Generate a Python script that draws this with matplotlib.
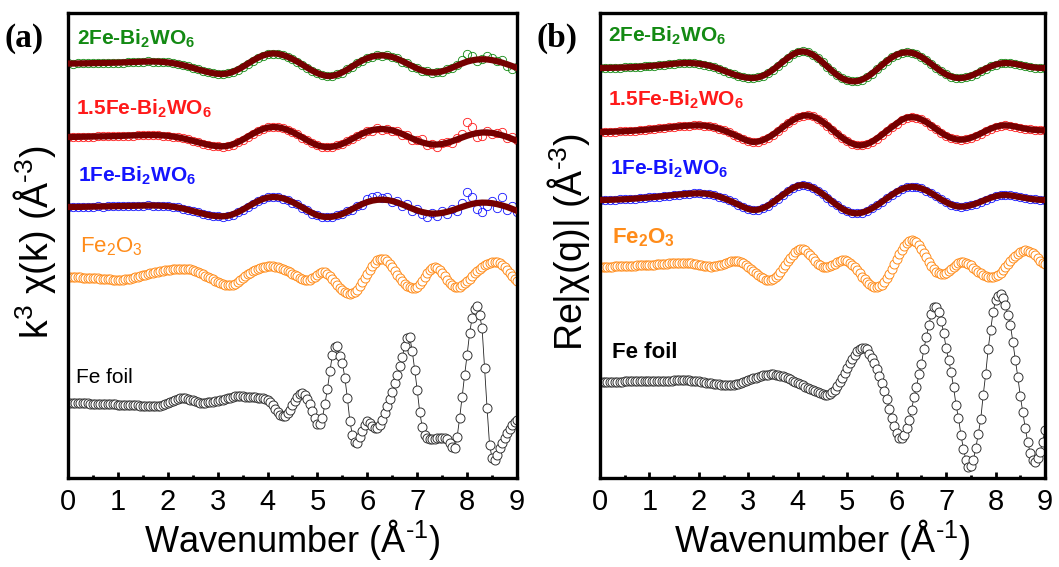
import matplotlib

matplotlib.use("Agg")

import matplotlib.pyplot as plt
import numpy as np

plt.rcParams["font.family"] = ["Liberation Sans", "DejaVu Sans"]
plt.rcParams["mathtext.fontset"] = "custom"
plt.rcParams["mathtext.rm"] = "Liberation Sans"
plt.rcParams["mathtext.it"] = "Liberation Sans:italic"
plt.rcParams["mathtext.bf"] = "Liberation Sans:bold"

# wavenumber grids (A^-1): fits / Bi2WO6 data every 0.1, references every 0.05
k_coarse = np.linspace(0, 9, 91)
k_fine = np.linspace(0, 9, 181)

# ---------------- panel (a): k^3 chi(k), values relative to each trace baseline
a_2fe_fit = [
    0.5, 0.5, 0.6, 0.7, 0.8, 0.9, 1.0, 1.1, 1.2, 1.3, 1.4,
    1.6, 1.8, 2.0, 2.2, 2.4, 2.5, 2.5, 2.4, 2.1, 1.6,
    0.9, 0.0, -1.1, -2.4, -3.8, -5.3, -6.7, -8.0, -9.1, -9.8,
    -10.0, -9.4, -7.9, -5.7, -2.9, 0.2, 3.3, 6.1, 8.4, 9.9,
    10.6, 10.3, 9.1, 7.3, 5.0, 2.3, -0.7, -3.8, -6.7, -9.2,
    -11.0, -12.0, -11.8, -10.5, -8.3, -5.5, -2.3, 0.8, 3.6, 5.9,
    7.5, 8.4, 8.6, 8.2, 7.0, 5.2, 2.9, 0.4, -2.1, -4.5,
    -6.5, -7.9, -8.5, -8.3, -7.3, -5.7, -3.7, -1.5, 0.6, 2.4,
    3.7, 4.5, 4.8, 4.6, 3.9, 2.8, 1.4, -0.2, -2.0, -3.8,
]
a_2fe_data = [
    0.6, 0.4, 0.7, 0.6, 0.9, 0.8, 1.1, 1.0, 1.3, 1.2, 1.5,
    1.5, 1.9, 1.9, 2.3, 2.3, 2.6, 2.4, 2.5, 2.0, 1.7,
    0.8, 0.1, -1.2, -2.3, -3.9, -5.2, -6.8, -7.9, -9.2, -9.7,
    -10.1, -9.3, -8.0, -5.6, -3.0, 0.4, 3.2, 6.3, 8.3, 10.1,
    10.5, 10.5, 9.0, 7.5, 4.8, 2.5, -0.9, -3.6, -6.9, -9.0,
    -11.2, -11.8, -12.0, -10.3, -8.6, -5.2, -2.6, 1.2, 3.3, 6.4,
    7.2, 9.0, 8.2, 8.7, 6.6, 5.6, 2.5, 0.9, -2.6, -4.0,
    -7.0, -7.4, -9.0, -7.8, -7.9, -5.0, -4.4, -0.6, 4.5, 10.5,
    8.0, 3.0, 5.5, 8.0, 6.5, 3.0, 4.5, -1.5, -5.0, -2.5,
]
a_15fe_fit = [
    0.0, 0.1, 0.2, 0.3, 0.4, 0.5, 0.6, 0.7, 0.8, 0.9, 1.0,
    1.2, 1.4, 1.6, 1.8, 1.9, 2.0, 2.0, 1.9, 1.6, 1.2,
    0.5, -0.3, -1.3, -2.5, -3.8, -5.1, -6.4, -7.6, -8.6, -9.2,
    -9.3, -8.8, -7.4, -5.3, -2.7, 0.2, 3.1, 5.7, 7.9, 9.4,
    10.0, 9.8, 8.8, 7.1, 4.9, 2.3, -0.5, -3.4, -6.1, -8.3,
    -9.6, -10.0, -9.7, -8.6, -6.8, -4.5, -1.8, 0.9, 3.4, 5.5,
    7.0, 7.8, 8.0, 7.6, 6.6, 5.0, 3.0, 0.8, -1.5, -3.6,
    -5.4, -6.7, -7.4, -7.5, -7.0, -5.8, -4.2, -2.4, -0.5, 1.3,
    2.8, 3.9, 4.5, 4.6, 4.1, 3.1, 1.7, 0.1, -1.8, -3.8,
]
a_15fe_data = [
    0.1, -0.1, 0.3, 0.2, 0.5, 0.4, 0.7, 0.6, 0.9, 0.8, 1.1,
    1.1, 1.5, 1.5, 1.9, 1.8, 2.1, 1.9, 2.0, 1.5, 1.3,
    0.4, -0.2, -1.4, -2.4, -3.9, -5.0, -6.5, -7.5, -8.8, -9.1,
    -9.5, -8.7, -7.6, -5.1, -2.9, 0.5, 2.9, 6.0, 7.7, 9.7,
    9.8, 10.1, 8.6, 7.4, 4.6, 2.6, -0.8, -3.1, -6.4, -8.0,
    -9.9, -9.6, -10.1, -8.3, -7.2, -4.1, -2.3, 1.5, 2.8, 6.2,
    6.4, 8.6, 7.5, 8.3, 5.8, 5.8, 2.1, 1.8, -2.5, -2.5,
    -1.5, -8.0, -6.5, -9.5, -6.0, -4.5, -6.0, -0.5, 3.0, 15.5,
    10.0, 0.0, 1.5, 6.0, 3.5, 4.0, 5.0, -1.0, 0.5, -3.0,
]
a_1fe_fit = [
    0.0, 0.1, 0.1, 0.2, 0.3, 0.4, 0.5, 0.6, 0.7, 0.8, 0.9,
    1.0, 1.1, 1.2, 1.3, 1.4, 1.5, 1.5, 1.4, 1.2, 0.9,
    0.3, -0.5, -1.5, -2.7, -4.0, -5.3, -6.6, -7.8, -8.7, -9.2,
    -9.3, -8.8, -7.4, -5.3, -2.7, 0.2, 3.1, 5.7, 7.9, 9.4,
    10.0, 9.8, 8.8, 7.1, 4.9, 2.3, -0.5, -3.4, -6.1, -8.3,
    -9.6, -10.0, -9.7, -8.6, -6.9, -4.6, -2.0, 0.6, 3.0, 5.0,
    6.4, 7.2, 7.4, 7.0, 6.0, 4.5, 2.6, 0.5, -1.6, -3.5,
    -5.0, -6.1, -6.6, -6.5, -5.9, -4.8, -3.3, -1.6, 0.1, 1.7,
    3.1, 4.0, 4.4, 4.3, 3.8, 2.9, 1.6, 0.1, -1.8, -3.8,
]
a_1fe_data = [
    0.1, -0.1, 0.2, 0.1, 0.4, 0.3, 0.6, 0.5, 0.8, 0.7, 1.0,
    0.9, 1.2, 1.1, 1.4, 1.3, 1.6, 1.4, 1.5, 1.1, 1.0,
    0.2, -0.4, -1.6, -2.6, -4.1, -5.2, -6.8, -7.6, -8.9, -9.0,
    -9.6, -8.6, -7.6, -5.1, -2.9, 0.5, 2.9, 6.0, 7.6, 9.7,
    9.7, 10.2, 8.5, 7.5, 4.5, 2.7, -0.9, -3.0, -6.5, -7.9,
    -10.0, -9.6, -10.2, -8.2, -7.4, -4.1, -2.6, 1.3, 2.4, 8.5,
    10.5, 11.0, 9.0, 10.0, 5.0, 6.5, 1.0, 3.0, -3.5, -1.5,
    -7.0, -10.0, -6.0, -9.0, -4.0, -6.5, -2.0, -3.5, 4.0, 15.0,
    10.0, -2.0, -5.0, 1.0, 6.0, -1.0, 10.0, -2.5, 1.5, -4.5,
]
a_fe2o3 = [
    0.0, 0.0, -0.1, -0.2, -0.3, -0.4, -0.5, -0.6, -0.7, -0.8, -1.0,
    -1.1, -1.3, -1.5, -1.7, -1.9, -2.1, -2.3, -2.5, -2.6, -2.7,
    -2.7, -2.6, -2.4, -2.1, -1.6, -1.0, -0.4, 0.3, 1.0, 1.7,
    2.4, 3.1, 3.7, 4.3, 4.8, 5.3, 5.8, 6.2, 6.6, 7.0,
    7.3, 7.6, 7.9, 8.1, 8.2, 8.3, 8.2, 8.0, 7.6, 7.0,
    6.2, 5.2, 4.0, 2.8, 1.5, 0.2, -1.1, -2.4, -3.6, -4.8,
    -6.0, -7.0, -7.8, -8.3, -8.2, -7.6, -6.5, -5.0, -3.2, -1.3,
    0.7, 2.6, 4.4, 6.0, 7.4, 8.5, 9.4, 10.0, 10.4, 10.6,
    10.7, 10.6, 10.3, 9.8, 9.1, 8.2, 7.1, 5.9, 4.6, 3.3,
    2.0, 0.7, -0.5, -1.6, -2.8, -3.3, -2.8, -1.4, 0.5, 2.5,
    4.2, 5.0, 4.6, 3.0, 0.6, -2.2, -5.2, -8.0, -10.6, -12.9,
    -14.8, -16.1, -16.7, -16.4, -15.0, -12.6, -9.3, -5.4, -1.2, 3.1,
    7.2, 11.0, 14.2, 16.6, 18.0, 18.3, 17.6, 15.8, 13.0, 9.6,
    6.0, 2.4, -1.0, -4.2, -6.9, -8.9, -10.2, -10.8, -10.7, -9.6,
    -7.3, -3.9, 0.0, 4.0, 7.3, 9.4, 10.0, 9.2, 7.2, 4.3,
    1.0, -2.5, -5.6, -8.1, -9.7, -10.0, -9.5, -8.2, -6.3, -4.0,
    -1.5, 1.1, 3.7, 6.2, 8.5, 10.5, 12.2, 13.5, 14.4, 14.9,
    15.0, 14.6, 13.6, 11.9, 9.7, 7.0, 4.0, 1.0, -2.0, -4.0,
]
a_fefoil = [
    0.0, 0.0, 0.0, 0.0, 0.0, -0.2, -0.3, -0.4, -0.5, -0.6, -0.7,
    -0.8, -0.9, -1.0, -1.1, -1.2, -1.3, -1.4, -1.5, -1.5, -1.6,
    -1.6, -1.7, -1.7, -1.8, -1.9, -2.0, -2.2, -2.4, -2.6, -2.8,
    -3.0, -3.2, -3.3, -3.4, -3.4, -3.3, -3.0, -2.4, -1.5, -0.4,
    0.8, 2.0, 3.2, 4.2, 4.8, 5.0, 4.8, 4.2, 3.4, 2.5,
    1.5, 0.6, 0.0, -0.2, 0.0, 0.5, 1.0, 1.4, 1.7, 2.0,
    2.5, 3.1, 3.8, 4.6, 5.4, 6.1, 6.6, 6.8, 6.8, 6.6,
    6.4, 6.2, 6.0, 5.8, 5.6, 5.4, 5.2, 4.8, 4.0, 2.6,
    0.5, -2.5, -6.0, -9.5, -12.0, -13.3, -12.8, -10.5, -6.8, -2.5,
    2.0, 6.0, 8.8, 9.6, 8.0, 4.2, -1.5, -8.5, -15.5, -21.0,
    -21.0, -15.0, -1.0, 14.0, 32.0, 48.0, 56.0, 57.0, 47.0, 40.0,
    25.0, 5.0, -18.0, -32.0, -39.0, -40.0, -34.0, -28.0, -22.0, -18.0,
    -20.0, -23.0, -25.0, -25.0, -22.0, -17.0, -10.0, -3.0, 4.0, 11.0,
    20.0, 28.0, 37.0, 46.0, 57.0, 65.0, 66.0, 52.0, 33.0, 13.0,
    -9.0, -24.0, -32.0, -35.0, -36.0, -36.0, -36.0, -35.0, -35.0, -35.0,
    -35.0, -36.0, -40.0, -44.0, -45.0, -34.0, -15.0, 6.0, 28.0, 48.0,
    70.0, 85.0, 94.0, 97.0, 88.0, 75.0, 35.0, -5.0, -42.0, -55.0,
    -57.0, -52.0, -45.0, -40.0, -35.0, -30.0, -26.0, -22.0, -19.0, -17.0,
]

# ---------------- panel (b): Re|chi(q)|
b_2fe = [
    0.0, 0.1, 0.2, 0.3, 0.4, 0.6, 0.8, 1.0, 1.3, 1.6, 2.0,
    2.4, 2.8, 3.3, 3.8, 4.3, 4.7, 5.0, 5.0, 4.8, 4.3,
    3.5, 2.4, 1.0, -0.7, -2.6, -4.5, -6.3, -7.9, -9.1, -9.8,
    -10.0, -9.3, -7.6, -5.0, -1.6, 2.3, 6.3, 10.2, 13.6, 16.0,
    16.6, 15.7, 13.4, 10.0, 5.8, 1.2, -3.2, -7.2, -10.4, -12.4,
    -13.3, -13.1, -11.6, -9.0, -5.5, -1.4, 2.9, 7.0, 10.6, 13.4,
    15.1, 15.7, 15.3, 13.7, 11.1, 7.8, 4.0, 0.2, -3.4, -6.4,
    -8.6, -9.8, -10.0, -9.3, -7.8, -5.7, -3.2, -0.7, 1.6, 3.4,
    4.6, 5.0, 4.8, 4.1, 3.1, 2.0, 1.1, 0.5, 0.1, 0.0,
]
b_15fe = [
    0.0, 0.1, 0.2, 0.4, 0.6, 0.8, 1.1, 1.4, 1.8, 2.2, 2.7,
    3.2, 3.7, 4.2, 4.7, 5.2, 5.7, 6.1, 6.4, 6.6, 6.7,
    6.4, 5.8, 4.8, 3.4, 1.7, -0.3, -2.5, -4.7, -7.0, -9.0,
    -10.0, -9.5, -8.0, -5.6, -2.5, 1.1, 4.9, 8.6, 11.9, 14.6,
    16.3, 16.7, 15.7, 13.5, 10.3, 6.5, 2.3, -1.9, -5.8, -9.1,
    -11.6, -13.2, -13.2, -12.0, -9.7, -6.5, -2.8, 1.1, 4.9, 8.5,
    12.2, 14.3, 15.0, 14.4, 12.6, 9.9, 6.5, 2.9, -0.6, -3.6,
    -5.9, -7.3, -7.7, -7.2, -5.8, -3.8, -1.5, 1.0, 3.3, 5.2,
    6.4, 6.7, 6.3, 5.4, 4.3, 3.3, 2.6, 2.1, 1.8, 1.7,
]
b_1fe = [
    0.0, 0.1, 0.2, 0.4, 0.6, 0.8, 1.1, 1.4, 1.8, 2.2, 2.6,
    3.0, 3.5, 4.0, 4.5, 5.0, 5.5, 5.9, 6.3, 6.6, 6.7,
    6.5, 5.9, 4.9, 3.5, 1.8, -0.2, -2.4, -4.7, -7.0, -9.0,
    -10.0, -9.6, -8.0, -5.6, -2.2, 1.5, 5.2, 8.8, 12.0, 14.3,
    15.0, 14.2, 12.3, 9.5, 6.1, 2.3, -1.6, -5.4, -8.8, -11.4,
    -12.9, -13.3, -12.6, -10.9, -8.4, -5.3, -1.9, 1.7, 5.1, 8.3,
    10.8, 12.6, 13.3, 12.9, 11.6, 9.5, 6.8, 3.7, 0.6, -2.2,
    -4.6, -6.2, -6.7, -6.3, -5.2, -3.6, -1.7, 0.3, 2.2, 3.8,
    4.8, 5.0, 4.6, 3.8, 2.9, 2.0, 1.2, 0.6, 0.2, 0.0,
]
b_fe2o3 = [
    0.0, 0.1, 0.2, 0.3, 0.4, 0.5, 0.6, 0.7, 0.8, 0.9, 1.0,
    1.1, 1.3, 1.4, 1.5, 1.6, 1.7, 1.8, 1.9, 2.0, 2.1,
    2.3, 2.5, 2.7, 2.9, 3.1, 3.3, 3.5, 3.7, 3.8, 3.9,
    4.0, 4.0, 4.0, 4.0, 4.0, 3.9, 3.7, 3.4, 3.0, 2.5,
    2.0, 1.4, 0.9, 0.6, 0.5, 0.6, 1.0, 1.6, 2.4, 3.3,
    4.2, 5.0, 5.6, 6.0, 6.0, 5.6, 4.8, 3.6, 2.0, 0.2,
    -1.8, -3.9, -6.0, -8.0, -9.8, -11.3, -12.5, -13.3, -13.2, -12.2,
    -10.4, -7.9, -4.8, -1.4, 2.2, 5.8, 9.2, 12.4, 15.2, 17.2,
    18.3, 18.0, 16.7, 14.5, 11.7, 8.7, 5.8, 3.4, 1.6, 0.4,
    -0.1, 0.0, 0.8, 2.0, 3.4, 4.8, 5.9, 6.6, 6.6, 5.8,
    4.3, 2.2, -0.4, -3.3, -6.4, -9.5, -12.4, -15.0, -17.1, -18.7,
    -19.7, -20.0, -19.3, -17.6, -14.9, -11.2, -6.8, -1.8, 3.5, 8.3,
    13.0, 17.3, 21.0, 23.9, 25.9, 26.7, 26.3, 24.7, 22.0, 18.5,
    14.4, 10.0, 5.5, 1.3, -2.2, -4.6, -6.0, -6.6, -6.6, -5.6,
    -3.9, -1.8, 0.5, 2.5, 4.0, 4.8, 5.0, 4.5, 3.3, 1.6,
    -0.5, -2.6, -4.6, -6.4, -7.9, -9.0, -9.7, -10.0, -9.8, -9.0,
    -7.6, -5.6, -3.1, -0.3, 2.7, 5.7, 8.6, 11.2, 13.4, 15.1,
    16.2, 16.7, 16.5, 15.5, 13.8, 11.6, 9.0, 6.5, 4.5, 3.3,
]
b_fefoil = [
    0.0, 0.0, 0.1, 0.1, 0.2, 0.2, 0.3, 0.3, 0.4, 0.4, 0.5,
    0.5, 0.6, 0.6, 0.7, 0.7, 0.8, 0.8, 0.9, 0.9, 1.0,
    1.0, 1.1, 1.1, 1.2, 1.2, 1.3, 1.3, 1.4, 1.4, 1.5,
    1.5, 1.6, 1.6, 1.6, 1.6, 1.5, 1.4, 1.2, 0.9, 0.6,
    0.2, -0.2, -0.6, -1.0, -1.4, -1.8, -2.2, -2.5, -2.8, -3.0,
    -3.1, -3.1, -3.0, -2.7, -2.2, -1.6, -0.9, -0.1, 0.8, 1.7,
    2.6, 3.5, 4.4, 5.2, 5.9, 6.5, 7.0, 7.4, 7.6, 7.6,
    7.4, 7.0, 6.4, 5.6, 4.7, 3.7, 2.6, 1.4, 0.2, -1.0,
    -2.2, -3.4, -4.6, -5.8, -7.0, -8.2, -9.4, -10.5, -11.5, -12.3,
    -12.9, -13.2, -12.5, -10.5, -8.0, -4.5, -0.5, 4.0, 9.0, 13.5,
    18.5, 23.0, 27.0, 30.5, 33.0, 34.2, 34.3, 32.5, 28.0, 24.0,
    19.0, 13.0, 6.0, -1.0, -9.0, -17.0, -27.0, -36.0, -44.0, -51.0,
    -56.0, -56.0, -53.0, -46.0, -38.0, -28.0, -15.0, -5.0, 8.0, 18.0,
    33.0, 45.0, 57.0, 68.0, 75.0, 75.5, 70.0, 61.0, 49.0, 34.0,
    22.0, 10.0, -5.0, -23.0, -36.0, -53.0, -67.0, -78.0, -85.0, -84.0,
    -78.0, -66.0, -52.0, -37.0, -13.0, 8.0, 33.0, 52.0, 70.0, 82.0,
    86.0, 88.0, 84.0, 77.0, 67.0, 57.0, 40.0, 22.0, 5.0, -14.0,
    -30.0, -46.0, -60.0, -71.0, -78.0, -80.0, -76.0, -70.0, -60.0, -48.0,
]

sample_names = [
    r"2Fe-Bi$_\mathbf{2}$WO$_\mathbf{6}$",
    r"1.5Fe-Bi$_\mathbf{2}$WO$_\mathbf{6}$",
    r"1Fe-Bi$_\mathbf{2}$WO$_\mathbf{6}$",
]
ref_names = [r"Fe$_2$O$_3$", "Fe foil"]
bold_ref_names = [r"Fe$_\mathbf{2}$O$_\mathbf{3}$", "Fe foil"]
sample_colors = ["#138a13", "#ff1a1a", "#1414ff"]
FIT_COLOR = "#750000"
OXIDE_COLOR = "#ff8c1a"

# vertical stacking of the traces (axis units)
a_offsets = [414, 341, 271, 201, 75]
b_offsets = [410, 346, 278, 211, 96]


def style_axes(ax):
    ax.set_xlim(0, 9)
    ax.set_ylim(0, 465)
    ax.set_xticks(range(10))
    ax.set_xticks(np.arange(0.5, 9, 1), minor=True)
    ax.set_yticks([])
    ax.tick_params(axis="x", which="major", direction="in", length=4, width=2,
                   labelsize=21, pad=7)
    ax.tick_params(axis="x", which="minor", direction="in", length=2, width=2)
    for spine in ax.spines.values():
        spine.set_linewidth(2.4)
    ax.set_xlabel("Wavenumber (Å$^{\u2010\\mathrm{1}}$)", fontsize=26,
                  labelpad=1)


def draw_samples(ax, fits, datas, offsets):
    for fit, data, color, off in zip(fits, datas, sample_colors, offsets):
        ax.plot(k_coarse, np.asarray(data) + off, "o", ms=6, mfc="none",
                mec=color, mew=0.6, zorder=2)
        ax.plot(k_coarse, np.asarray(fit) + off, "-", color=FIT_COLOR, lw=4.5,
                zorder=3)


def draw_refs(ax, oxide, foil, offsets):
    ax.plot(k_fine, np.asarray(oxide) + offsets[3], "o", ms=6.5, mfc="white",
            mec=OXIDE_COLOR, mew=0.7, zorder=2)
    ax.plot(k_fine, np.asarray(foil) + offsets[4], "-o", color="#222222",
            lw=0.6, ms=6.5, mfc="white", mec="#333333", mew=0.7, zorder=2)


fig = plt.figure(figsize=(10.59, 5.67), dpi=100)
ax_a = fig.add_axes([0.0642, 0.157, 0.424, 0.820])
ax_b = fig.add_axes([0.5666, 0.157, 0.4202, 0.820])

# panel (a)
draw_samples(ax_a, [a_2fe_fit, a_15fe_fit, a_1fe_fit],
             [a_2fe_data, a_15fe_data, a_1fe_data], a_offsets)
draw_refs(ax_a, a_fe2o3, a_fefoil, a_offsets)
style_axes(ax_a)
for name, color, (x, y) in zip(sample_names, sample_colors,
                               [(0.18, 433), (0.17, 363), (0.2, 296)]):
    ax_a.text(x, y, name, color=color, fontsize=15, fontweight="bold")
ax_a.text(0.24, 226, ref_names[0], color=OXIDE_COLOR, fontsize=16)
ax_a.text(0.17, 95, ref_names[1], color="black", fontsize=15)

# panel (b)
draw_samples(ax_b, [b_2fe, b_15fe, b_1fe], [b_2fe, b_15fe, b_1fe], b_offsets)
draw_refs(ax_b, b_fe2o3, b_fefoil, b_offsets)
style_axes(ax_b)
for name, color, (x, y) in zip(sample_names, sample_colors,
                               [(0.17, 436), (0.17, 372), (0.2, 303)]):
    ax_b.text(x, y, name, color=color, fontsize=15, fontweight="bold")
ax_b.text(0.24, 235, bold_ref_names[0], color=OXIDE_COLOR, fontsize=16,
          fontweight="bold")
ax_b.text(0.24, 120, bold_ref_names[1], color="black", fontsize=16,
          fontweight="bold")

fig.text(35 / 1059, 1 - 242 / 567, "k$^{3}$ χ(k) (Å$^{\u2010\\mathrm{3}}$)",
         rotation=90, ha="center", va="center", fontsize=27)
fig.text(568 / 1059, 1 - 242 / 567, "Re|χ(q)| (Å$^{\u2010\\mathrm{3}}$)",
         rotation=90, ha="center", va="center", fontsize=27)
fig.text(5 / 1059, 1 - 38 / 567, "(a)", family="Liberation Serif",
         fontweight="bold", fontsize=24, va="center")
fig.text(537 / 1059, 1 - 38 / 567, "(b)", family="Liberation Serif",
         fontweight="bold", fontsize=24, va="center")

fig.savefig("out.png", dpi=100)
plt.close(fig)
